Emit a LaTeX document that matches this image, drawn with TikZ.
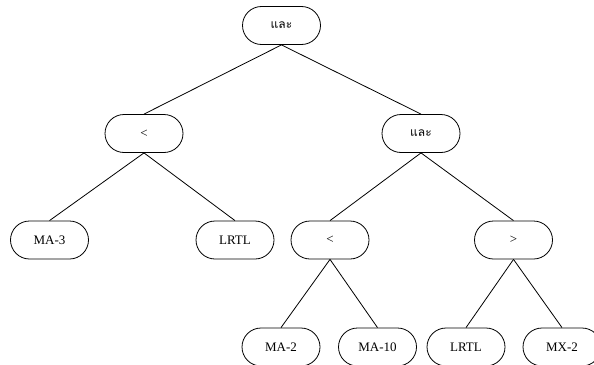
\documentclass[tikz,border=0pt]{standalone}
\usepackage{fontspec}
\setmainfont{Liberation Serif}
\newfontfamily\thaifont[Script=Thai]{Loma}
\usepackage{tikz}

\begin{document}
\begin{tikzpicture}[x=1pt, y=-1pt,
    caja/.style={draw, rectangle, rounded corners=19pt, minimum width=78pt,
        minimum height=38pt, line width=0.8pt, font=\fontsize{13}{15}\selectfont}]
    \useasboundingbox (0,0) rectangle (594,364);

    % Raiz y primer nivel
    \node[caja] (raiz) at (281.5,25.5) {\thaifont\fontsize{12}{14}\selectfont และ};
    \node[caja] (menor) at (144,133.5) {<};
    \node[caja] (y) at (421,133.5) {\thaifont\fontsize{12}{14}\selectfont และ};

    % Segundo nivel
    \foreach \n/\x/\t in {ma3/49.5/MA-3, lrtl/235/LRTL, menorb/330/<, mayor/513.5/>} {
        \node[caja] (\n) at (\x,240) {\t};
    }

    % Hojas
    \foreach \n/\x/\t in {ma2/281/MA-2, ma10/377.5/MA-10, lrtlb/466/LRTL, mx2/562/MX-2} {
        \node[caja] (\n) at (\x,347) {\t};
    }

    % Aristas
    \foreach \a/\b in {raiz/menor, raiz/y, menor/ma3, menor/lrtl, y/menorb, y/mayor,
        menorb/ma2, menorb/ma10, mayor/lrtlb, mayor/mx2} {
        \draw[line width=0.8pt] (\a.south) -- (\b.north);
    }

\end{tikzpicture}
\end{document}
